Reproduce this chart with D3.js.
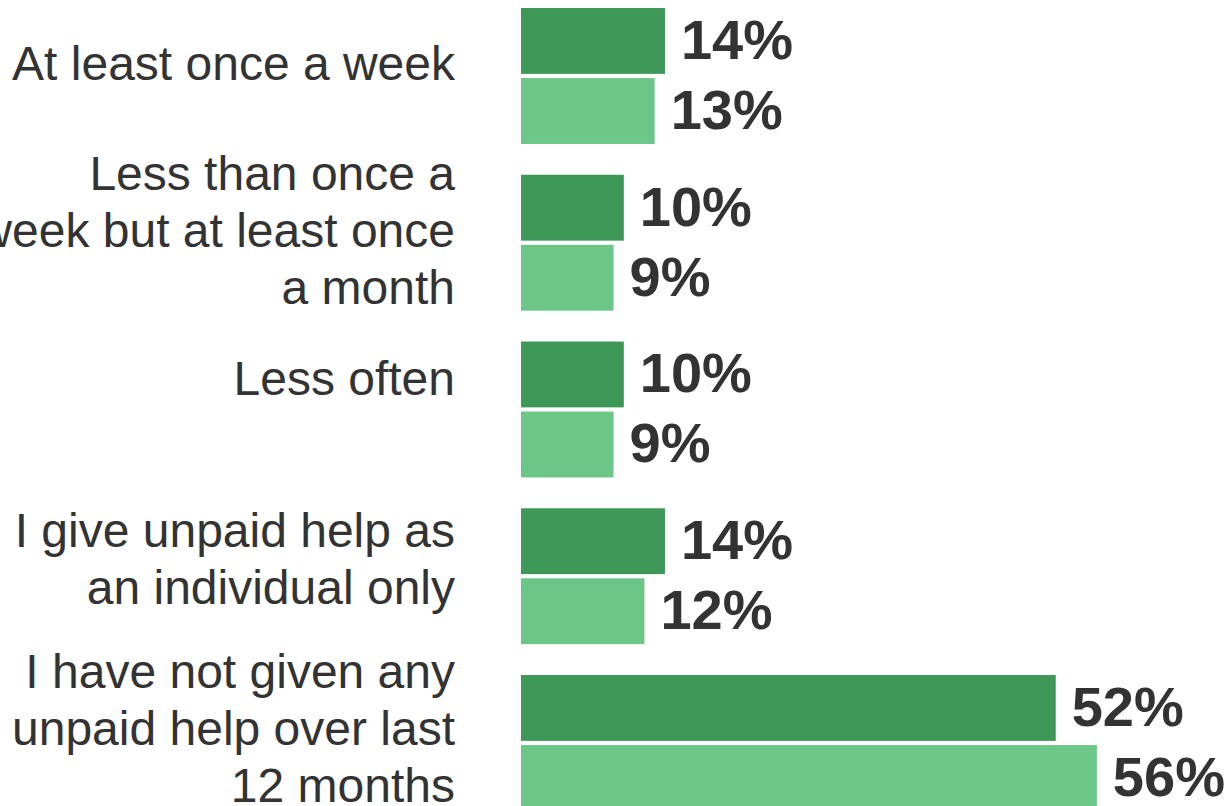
<!DOCTYPE html>
<html>
<head>
<meta charset="utf-8">
<script src="https://cdn.jsdelivr.net/npm/d3@7"></script>
<style>
  html, body { margin: 0; padding: 0; background: #ffffff; }
  svg { display: block; overflow: hidden; }
</style>
</head>
<body>
<svg id="chart" width="1232" height="806"></svg>
<script>
// Frequency of giving unpaid help, two survey series
const categories = [
  "At least once a week",
  "Less than once a week but at least once a month",
  "Less often",
  "I give unpaid help as an individual only",
  "I have not given any unpaid help over last 12 months"
];
const categoryLines = [
  ["At least once a week"],
  ["Less than once a", "week but at least once", "a month"],
  ["Less often"],
  ["I give unpaid help as", "an individual only"],
  ["I have not given any", "unpaid help over last", "12 months"]
];
const series = ["Series 1", "Series 2"];
const series1Values = [14, 10, 10, 14, 52];
const series2Values = [13, 9, 9, 12, 56];

// Layout
const W = 1232, H = 806;
const barLeft = 521;
const labelRight = 455;
const seriesColors = ["#3d9858", "#6cc688"];
const textColor = "#333333";
const labelLineHeight = 57;
const labelNudge = [-12, -12, -30, -17, -14];

const svg = d3.select("#chart");

const rows = categories.map((c, i) => ({
  category: c,
  lines: categoryLines[i],
  values: [
    { key: series[0], value: series1Values[i] },
    { key: series[1], value: series2Values[i] }
  ]
}));

const x = d3.scaleLinear().domain([0, 60]).range([barLeft, barLeft + 617]);
const y0 = d3.scaleBand().domain(categories).range([-7.4, 826.35])
  .paddingInner(0.185).paddingOuter(0.0925);
const y1 = d3.scaleBand().domain(series).range([0, y0.bandwidth()]).paddingInner(0.06);
const color = d3.scaleOrdinal().domain(series).range(seriesColors);

const groups = svg.selectAll("g.group")
  .data(rows)
  .join("g")
  .attr("class", "group")
  .attr("transform", d => `translate(0,${y0(d.category)})`);

groups.selectAll("rect")
  .data(d => d.values)
  .join("rect")
  .attr("x", x(0))
  .attr("y", d => y1(d.key))
  .attr("width", d => x(d.value) - x(0))
  .attr("height", y1.bandwidth())
  .attr("fill", d => color(d.key));

groups.selectAll("text.value")
  .data(d => d.values)
  .join("text")
  .attr("class", "value")
  .attr("x", d => x(d.value) + 16)
  .attr("y", d => y1(d.key) + y1.bandwidth() / 2 + 18)
  .attr("font-family", "Liberation Sans, Arial, sans-serif")
  .attr("font-weight", "bold")
  .attr("font-size", 56)
  .attr("fill", textColor)
  .text(d => d.value + "%");

// Category labels, right-aligned, multi-line
groups.each(function (d, i) {
  const g = d3.select(this);
  const cy = y0.bandwidth() / 2 + labelNudge[i];
  const n = d.lines.length;
  const t = g.append("text")
    .attr("class", "category")
    .attr("text-anchor", "end")
    .attr("font-family", "Liberation Sans, Arial, sans-serif")
    .attr("font-size", 48)
    .attr("fill", textColor);
  d.lines.forEach((line, k) => {
    t.append("tspan")
      .attr("x", labelRight)
      .attr("y", cy + (k - (n - 1) / 2) * labelLineHeight + 16)
      .text(line);
  });
});
</script>
</body>
</html>
